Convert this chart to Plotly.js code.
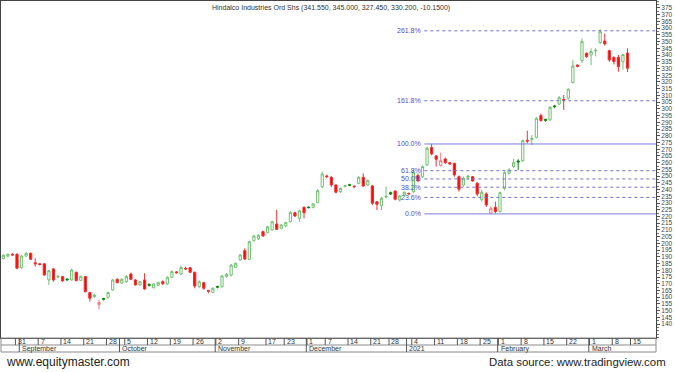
<!DOCTYPE html>
<html><head><meta charset="utf-8">
<script src="https://cdn.plot.ly/plotly-3.0.1.min.js"></script>
<style>html,body{margin:0;padding:0;background:#fff;}#chart{width:675px;height:372px;}</style>
</head><body><div id="chart"></div>
<script>
const dates = [
'2020-08-26','2020-08-27','2020-08-28','2020-08-31',
'2020-09-01','2020-09-02','2020-09-03','2020-09-04','2020-09-07','2020-09-08','2020-09-09','2020-09-10','2020-09-11',
'2020-09-14','2020-09-15','2020-09-16','2020-09-17','2020-09-18','2020-09-21','2020-09-22','2020-09-23','2020-09-24','2020-09-25',
'2020-09-28','2020-09-29','2020-09-30',
'2020-10-01','2020-10-05','2020-10-06','2020-10-07','2020-10-08','2020-10-09','2020-10-12','2020-10-13','2020-10-14','2020-10-15','2020-10-16',
'2020-10-19','2020-10-20','2020-10-21','2020-10-22','2020-10-23','2020-10-26','2020-10-27','2020-10-28','2020-10-29','2020-10-30',
'2020-11-02','2020-11-03','2020-11-04','2020-11-05','2020-11-06','2020-11-09','2020-11-10','2020-11-11','2020-11-12','2020-11-13','2020-11-14',
'2020-11-17','2020-11-18','2020-11-19','2020-11-20','2020-11-23','2020-11-24','2020-11-25','2020-11-26','2020-11-27',
'2020-12-01','2020-12-02','2020-12-03','2020-12-04','2020-12-07','2020-12-08','2020-12-09','2020-12-10','2020-12-11',
'2020-12-14','2020-12-15','2020-12-16','2020-12-17','2020-12-18','2020-12-21','2020-12-22','2020-12-23','2020-12-24',
'2020-12-28','2020-12-29','2020-12-30','2020-12-31',
'2021-01-01','2021-01-04','2021-01-05','2021-01-06','2021-01-07','2021-01-08','2021-01-11','2021-01-12','2021-01-13','2021-01-14','2021-01-15',
'2021-01-18','2021-01-19','2021-01-20','2021-01-21','2021-01-22','2021-01-25','2021-01-27','2021-01-28','2021-01-29',
'2021-02-01','2021-02-02','2021-02-03','2021-02-04','2021-02-05','2021-02-08','2021-02-09','2021-02-10','2021-02-11','2021-02-12',
'2021-02-15','2021-02-16','2021-02-17','2021-02-18','2021-02-19','2021-02-22','2021-02-23','2021-02-24','2021-02-25','2021-02-26',
'2021-03-01','2021-03-02','2021-03-03','2021-03-04','2021-03-05','2021-03-08','2021-03-09','2021-03-10','2021-03-12'
];
const futureDates = ['2021-03-15'];

const openP = [
188.7,190.5,192.0,191.9,181.8,190.6,192.6,185.6,184.8,184.8,
172.8,181.0,175.0,175.3,173.5,172.8,178.5,172.5,175.3,163.4,
160.5,154.5,159.0,159.9,165.4,173.3,170.5,171.5,177.2,172.8,
169.1,172.8,169.5,167.0,168.8,171.5,169.8,174.8,178.8,177.2,
181.5,181.9,178.5,167.8,170.8,165.0,163.6,168.0,167.8,175.5,
176.5,182.2,187.6,194.6,188.1,202.0,203.5,208.7,208.0,210.0,
214.4,211.2,212.9,216.1,222.8,218.6,226.8,227.0,226.8,230.3,
242.2,250.1,249.1,243.4,238.5,242.4,243.6,242.6,244.6,249.1,
243.4,242.7,231.0,228.0,234.5,237.7,238.9,232.3,236.0,237.2,
238.5,250.5,249.5,258.3,271.2,265.0,258.0,262.8,260.0,259.5,
249.6,243.4,249.1,249.6,244.7,232.5,236.7,222.4,226.8,223.6,
240.9,252.1,257.1,261.3,261.5,276.6,277.2,278.9,295.0,292.3,
291.8,302.2,303.6,307.0,307.9,319.5,332.6,335.9,341.3,340.1,
343.1,349.3,350.5,343.3,338.3,338.3,335.1,341.55
];
const highP = [
191.9,192.5,192.6,192.6,191.5,193.5,193.2,188.9,185.5,185.3,
180.2,181.5,176.5,175.8,174.0,181.2,179.0,176.0,175.8,164.0,
162.5,157.9,159.5,164.2,173.5,174.0,174.0,176.5,178.3,173.3,
172.0,177.8,170.3,170.3,171.5,172.5,175.5,180.0,179.5,183.5,
182.7,182.3,179.0,172.5,171.3,165.4,167.3,168.5,176.5,178.0,
184.7,185.8,192.0,196.3,202.0,206.3,206.8,209.5,213.0,216.8,
224.8,214.5,216.0,224.0,223.5,225.0,227.5,227.5,230.0,240.3,
253.3,251.1,250.0,244.0,241.5,243.6,244.3,243.0,250.0,252.0,
247.5,243.5,231.5,234.5,242.2,238.5,239.5,236.0,238.5,237.7,
255.0,252.0,258.0,272.0,273.9,265.7,267.5,263.8,260.5,260.0,
250.5,249.6,251.0,250.0,245.5,240.0,238.0,227.5,231.0,238.5,
253.5,256.0,263.0,262.5,277.0,283.8,280.6,294.0,296.5,292.5,
302.0,303.0,309.5,310.3,315.3,336.4,333.0,352.5,342.0,345.0,
345.0,359.2,356.0,344.0,339.0,340.0,340.8,345.0
];
const lowP = [
188.2,189.8,190.8,180.8,181.0,190.0,187.8,182.7,183.5,176.0,
169.1,171.5,174.0,171.5,172.0,172.2,171.8,172.0,163.5,156.7,
159.5,151.0,157.5,159.0,164.8,170.3,169.8,170.5,172.8,168.6,
168.6,165.5,168.0,166.6,168.3,169.0,169.0,174.3,177.5,176.5,
180.2,178.0,166.6,167.0,165.5,162.9,163.0,166.5,167.0,174.5,
175.3,181.8,187.0,187.6,187.6,201.3,202.5,205.0,207.5,209.5,
210.0,210.5,212.0,215.5,219.5,216.1,218.6,226.0,226.0,229.8,
241.0,248.5,242.0,237.2,237.5,241.6,242.5,241.0,244.0,242.0,
242.5,228.5,224.8,224.8,233.5,236.0,232.0,231.0,235.5,236.3,
237.5,245.5,248.5,257.5,265.5,257.1,257.1,259.0,258.5,249.6,
238.5,242.2,247.5,245.9,235.0,231.0,227.0,221.9,222.4,223.0,
239.5,251.0,256.0,254.6,260.5,274.4,273.2,278.0,290.5,290.5,
291.0,300.5,302.8,299.2,307.0,319.0,331.0,334.0,338.0,332.6,
339.0,348.0,347.0,335.0,333.0,327.7,329.0,327.45
];
const closeP = [
191.1,191.8,191.4,181.5,190.6,192.6,188.2,184.8,184.3,176.5,
179.7,172.8,175.5,172.1,173.0,180.2,172.3,175.5,164.1,159.2,
161.5,156.0,158.5,163.4,172.8,170.8,173.3,175.3,173.3,169.1,
171.5,166.1,168.8,169.8,170.8,170.0,174.8,179.0,178.2,182.0,
181.0,178.5,168.3,171.5,166.6,164.5,166.6,167.5,175.8,177.0,
183.9,185.2,191.4,188.4,201.3,205.5,206.0,205.5,212.4,216.1,
210.4,213.7,215.4,223.1,220.4,224.3,222.8,226.6,229.3,239.2,
251.6,249.6,243.4,238.0,240.9,242.9,243.2,242.2,249.1,242.7,
246.6,229.8,229.0,233.5,234.9,236.7,232.8,235.2,238.0,236.8,
253.0,246.5,257.1,270.7,266.5,262.5,261.5,260.0,259.0,250.9,
240.2,248.4,250.0,246.4,236.7,238.0,228.6,226.1,223.6,237.7,
252.6,254.6,260.0,260.5,276.4,276.1,278.0,293.0,291.3,291.5,
301.2,301.7,308.3,306.5,314.6,331.9,331.6,350.0,338.8,342.6,
343.6,357.4,348.3,336.4,335.1,331.4,340.35,330.2
];

const tickDates = ['2020-08-31','2020-09-07','2020-09-14','2020-09-21','2020-09-28','2020-10-05','2020-10-12','2020-10-19','2020-10-26',
'2020-11-02','2020-11-09','2020-11-17','2020-11-23','2020-12-01','2020-12-07','2020-12-14','2020-12-21','2020-12-28',
'2021-01-04','2021-01-11','2021-01-18','2021-01-25','2021-02-01','2021-02-08','2021-02-15','2021-02-22','2021-03-01','2021-03-08','2021-03-15'];
const tickLabels = ['31','7','14','21','28','5','12','19','26','2','9','17','23','1','7','14','21','28','4','11','18','25','1','8','15','22','1','8','15'];
const monthLabels = ['September','October','November','December','2021','February','March'];
const yTicks = [140,145,150,155,160,165,170,175,180,185,190,195,200,205,210,215,220,225,230,235,240,245,250,255,260,265,270,275,280,285,290,295,300,305,310,315,320,325,330,335,340,345,350,355,360,365,370,375];
const fibLevels = [0, 23.6, 38.2, 50, 61.8, 100, 161.8, 261.8];
const fibLabels = ['0.0%','23.6%','38.2%','50.0%','61.8%','100.0%','161.8%','261.8%'];
const titleText = 'Hindalco Industries Ord Shs (341.550, 345.000, 327.450, 330.200, -10.1500)';

// ---- build ----
const XR = [-0.51, 143.25];
const YR = [129.65, 380.2];
const FONT = 'Liberation Sans, Arial, sans-serif';
const allDates = dates.concat(futureDates);
const idx = dates.map((d, i) => i);

function group(test, line, fill) {
  const sel = idx.filter(i => test(i));
  const st = {line: {color: line, width: 1}, fillcolor: fill};
  return {
    type: 'candlestick', x: sel, open: sel.map(i => openP[i]), high: sel.map(i => highP[i]),
    low: sel.map(i => lowP[i]), close: sel.map(i => closeP[i]),
    increasing: st, decreasing: st, whiskerwidth: 0, showlegend: false, hoverinfo: 'skip'
  };
}
const prev = i => (i === 0 ? openP[0] : closeP[i - 1]);
const traces = [
  group(i => closeP[i] >= prev(i) && closeP[i] >= openP[i], '#72c272', '#ffffff'),
  group(i => closeP[i] >= prev(i) && closeP[i] < openP[i], '#0a8a0a', '#0a8a0a'),
  group(i => closeP[i] < prev(i) && closeP[i] >= openP[i], '#f07a7a', '#ffffff'),
  group(i => closeP[i] < prev(i) && closeP[i] < openP[i], '#f03030', '#ff0000')
];

const shapes = [];
const annotations = [];
const gray = '#8a8a8a';
// x-axis box
shapes.push({type: 'rect', xref: 'paper', yref: 'paper', ysizemode: 'pixel', yanchor: 0, x0: 0, x1: 1, y0: -14, y1: 0, line: {color: gray, width: 1}});
shapes.push({type: 'line', xref: 'paper', yref: 'paper', ysizemode: 'pixel', yanchor: 0, x0: 0, x1: 1, y0: -7, y1: -7, line: {color: gray, width: 1}});
tickDates.forEach((d, k) => {
  const xi = allDates.indexOf(d);
  shapes.push({type: 'line', xref: 'x', yref: 'paper', ysizemode: 'pixel', yanchor: 0, x0: xi - 0.35, x1: xi - 0.35, y0: -7, y1: 0, line: {color: '#555', width: 1}});
  annotations.push({xref: 'x', yref: 'paper', x: xi - 0.25, y: 0, yshift: -3.8, xanchor: 'left', yanchor: 'middle', text: tickLabels[k], showarrow: false, font: {family: FONT, size: 7, color: '#333'}});
});
let m = 0;
for (let i = 1; i < dates.length; i++) {
  if (dates[i].slice(0, 7) !== dates[i - 1].slice(0, 7)) {
    const b = i - 0.5;
    shapes.push({type: 'line', xref: 'x', yref: 'paper', ysizemode: 'pixel', yanchor: 0, x0: b, x1: b, y0: -14, y1: 0, line: {color: '#555', width: 1}});
    annotations.push({xref: 'x', yref: 'paper', x: b + 0.2, y: 0, yshift: -10.8, xanchor: 'left', yanchor: 'middle', text: monthLabels[m], showarrow: false, font: {family: FONT, size: 7, color: '#333'}});
    m++;
  }
}
// Fibonacci
const janHigh = idx.filter(i => dates[i] >= '2021-01-01' && dates[i] <= '2021-01-15');
const janLow = idx.filter(i => dates[i] >= '2021-01-18' && dates[i] <= '2021-01-31');
const fibHigh = Math.max(...janHigh.map(i => highP[i]));
const fibLow = Math.min(...janLow.map(i => lowP[i]));
const fibStart = dates.indexOf('2021-01-07') - 0.6;
fibLevels.forEach((lv, k) => {
  const p = fibLow + (fibHigh - fibLow) * lv / 100;
  const solid = (lv === 0 || lv === 100);
  shapes.push({type: 'line', xref: 'x', yref: 'y', x0: fibStart, x1: XR[1], y0: p, y1: p,
    line: {color: solid ? '#7c7ce0' : '#7070d0', width: 1, dash: solid ? 'solid' : 'dot'}});
  annotations.push({xref: 'x', yref: 'y', x: fibStart - 0.2, y: p, xanchor: 'right', yanchor: 'middle', text: fibLabels[k], showarrow: false, font: {family: FONT, size: 7, color: '#5050c8'}});
});
// title and footer
annotations.push({xref: 'paper', yref: 'paper', x: 0.504, y: 1, yshift: -1, xanchor: 'center', yanchor: 'top', text: titleText, showarrow: false, font: {family: FONT, size: 7, color: '#333'}});
annotations.push({xref: 'paper', yref: 'paper', x: 0.005, y: 0, yshift: -24, xanchor: 'left', yanchor: 'middle', text: 'www.equitymaster.com', showarrow: false, font: {family: FONT, size: 12, color: '#222'}});
annotations.push({xref: 'paper', yref: 'paper', x: 1.0185, y: 0, yshift: -24, xanchor: 'right', yanchor: 'middle', text: 'Data source: www.tradingview.com', showarrow: false, font: {family: FONT, size: 11.4, color: '#222'}});

const layout = {
  width: 675, height: 372, margin: {l: 1, r: 19, t: 1, b: 34},
  paper_bgcolor: '#fff', plot_bgcolor: '#fff', showlegend: false,
  xaxis: {type: 'linear', range: XR, showgrid: false, zeroline: false, showticklabels: false, ticks: '',
    showline: true, mirror: true, linecolor: '#444', linewidth: 1, rangeslider: {visible: false}, fixedrange: true},
  yaxis: {side: 'right', range: YR, tickvals: yTicks, ticktext: yTicks.map(String), ticks: 'outside', ticklen: 3, tickcolor: '#555',
    showgrid: false, zeroline: false, showline: true, mirror: true, linecolor: '#444', linewidth: 1,
    tickfont: {family: FONT, size: 6.5, color: '#444'},
    minor: {ticks: 'outside', ticklen: 2, dtick: 2.5, tick0: 0, tickcolor: '#777'}, fixedrange: true},
  shapes: shapes, annotations: annotations
};
Plotly.newPlot('chart', traces, layout, {displayModeBar: false, staticPlot: true});
</script>
</body></html>
